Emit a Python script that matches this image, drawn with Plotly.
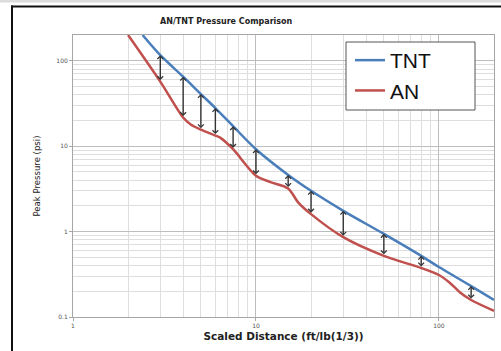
import numpy as np
import plotly.graph_objects as go

# ---- data ----
tnt_x = [2.4, 3, 4, 5, 6, 7.5, 10, 15, 20, 30, 50, 80, 100, 150, 200]
tnt_y = [200, 116, 65, 40.7, 27.9, 17.1, 9.2, 4.6, 3.0, 1.75, 0.94, 0.52, 0.385, 0.23, 0.158]

an_x = [2, 3, 4, 4.4, 5, 6, 6.4, 7.5, 10, 12, 15, 17, 20, 30, 50, 80, 100, 115, 130, 150, 200]
an_y = [200, 57, 21.6, 17.9, 15.6, 13.3, 12.5, 9.2, 4.5, 3.8, 3.2, 2.2, 1.6, 0.86, 0.52, 0.375, 0.31, 0.25, 0.195, 0.158, 0.118]

arrow_x = [3, 4, 5, 6, 7.5, 10, 15, 20, 30, 50, 80, 150]

x_tick_vals = [1, 10, 100]
x_tick_text = ["1", "10", "100"]
y_tick_vals = [0.1, 1, 10, 100]
y_tick_text = ["0.1", "1", "10", "100"]

title_text = "AN/TNT Pressure Comparison"
x_title = "Scaled Distance (ft/lb(1/3))"
y_title = "Peak Pressure (psi)"

BLUE = "#4a7ebb"
RED = "#c0504d"

W, H = 501, 351
ML, MR, MT, MB = 73, 7, 35, 34
PW, PH = W - ML - MR, H - MT - MB


def px_x(p):
    return (p - ML) / PW


def px_y(p):
    return (H - MB - p) / PH


fig = go.Figure()
fig.add_trace(go.Scatter(x=tnt_x, y=tnt_y, mode="lines", name="TNT",
                         line=dict(color=BLUE, width=2.5, shape="spline", smoothing=0.8)))
fig.add_trace(go.Scatter(x=an_x, y=an_y, mode="lines", name="AN",
                         line=dict(color=RED, width=2.5, shape="spline", smoothing=0.8)))

tnt_map = dict(zip(tnt_x, tnt_y))
an_map = dict(zip(an_x, an_y))
for xv in arrow_x:
    top = tnt_map[xv]
    bot = an_map[xv]
    fig.add_annotation(x=np.log10(xv), y=np.log10(top), ax=np.log10(xv), ay=np.log10(bot),
                       xref="x", yref="y", axref="x", ayref="y", text="",
                       showarrow=True, arrowside="end+start", arrowhead=4, startarrowhead=4,
                       arrowsize=0.8, startarrowsize=0.8, arrowwidth=1.4, arrowcolor="#333333",
                       standoff=0, startstandoff=0)

fig.add_annotation(text=title_text, x=px_x(226), y=px_y(22), xref="paper", yref="paper",
                   showarrow=False, xanchor="center", yanchor="middle",
                   font=dict(family="DejaVu Sans", size=8, color="#222222", weight="bold"))

grid_minor = "#dedede"
grid_major = "#bdbdbd"

fig.update_xaxes(type="log", range=[0, np.log10(200)], automargin=False,
                 tickvals=x_tick_vals, ticktext=x_tick_text,
                 showgrid=True, gridcolor=grid_major, gridwidth=1,
                 minor=dict(dtick="D1", showgrid=True, gridcolor=grid_minor, ticks=""),
                 showline=True, linecolor="#a6a6a6", linewidth=1, mirror=True,
                 ticks="outside", ticklen=3, tickcolor="#a6a6a6",
                 tickfont=dict(family="DejaVu Sans", size=6, color="#555555"),
                 title=dict(text=x_title, standoff=4,
                            font=dict(family="DejaVu Sans", size=10.5, color="#222222", weight="bold")),
                 zeroline=False)
fig.update_yaxes(type="log", range=[-1, np.log10(200)], automargin=False,
                 tickvals=y_tick_vals, ticktext=y_tick_text,
                 showgrid=True, gridcolor=grid_major, gridwidth=1,
                 minor=dict(dtick="D1", showgrid=True, gridcolor=grid_minor, ticks=""),
                 showline=True, linecolor="#a6a6a6", linewidth=1, mirror=True,
                 ticks="outside", ticklen=3, tickcolor="#a6a6a6",
                 tickfont=dict(family="DejaVu Sans", size=6, color="#555555"),
                 title=dict(text=y_title, standoff=14,
                            font=dict(family="DejaVu Sans Condensed, DejaVu Sans", size=9.5,
                                      color="#222222")),
                 zeroline=False)

shapes = [
    dict(type="rect", xref="paper", yref="paper", x0=px_x(0), x1=px_x(W), y0=px_y(0), y1=px_y(2.5),
         fillcolor="#dcdcdc", line=dict(width=0), layer="above"),
    dict(type="line", xref="paper", yref="paper", x0=px_x(11), x1=px_x(W), y0=px_y(6.5), y1=px_y(6.5),
         line=dict(color="#111111", width=2)),
    dict(type="line", xref="paper", yref="paper", x0=px_x(12), x1=px_x(12), y0=px_y(5.5), y1=px_y(H),
         line=dict(color="#111111", width=2)),
    # legend frame
    dict(type="rect", xref="paper", yref="paper", x0=px_x(346), x1=px_x(475), y0=px_y(110), y1=px_y(42),
         fillcolor="white", line=dict(color="#555555", width=1), layer="above"),
]

fig.update_layout(
    margin=dict(l=ML, r=MR, t=MT, b=MB),
    paper_bgcolor="white", plot_bgcolor="white",
    shapes=shapes,
    legend=dict(x=px_x(350), y=px_y(40), xanchor="left", yanchor="top",
                bgcolor="rgba(0,0,0,0)", borderwidth=0,
                font=dict(family="Liberation Sans", size=21, color="#111111"),
                tracegroupgap=0),
    showlegend=True,
)

post = (
    "document.documentElement.style.overflow='hidden';"
    "document.body.style.margin='0';document.body.style.overflow='hidden';"
    "var gd=document.getElementById('{plot_id}');"
    "gd.style.width='%dpx';gd.style.height='%dpx';"
    "Plotly.relayout(gd,{width:%d,height:%d});" % (W, H, W, H)
)

fig.write_html("out.html", config={"displayModeBar": False},
               default_width="480px", default_height="330px",
               post_script=post)
